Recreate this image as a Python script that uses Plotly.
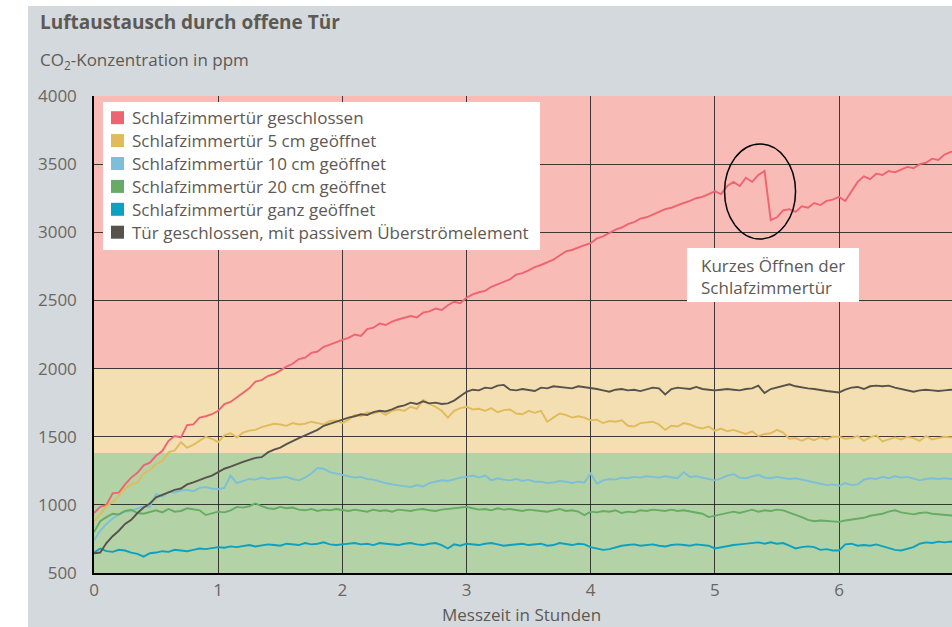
import plotly.graph_objects as go

# ---------------- data ----------------
hours = [round(i * 0.05, 2) for i in range(140)]

names = [
    "Schlafzimmertür geschlossen",
    "Schlafzimmertür 5 cm geöffnet",
    "Schlafzimmertür 10 cm geöffnet",
    "Schlafzimmertür 20 cm geöffnet",
    "Schlafzimmertür ganz geöffnet",
    "Tür geschlossen, mit passivem Überströmelement",
]
colors = ["#ee6470", "#e1bb5b", "#7dbfd8", "#67ab67", "#0ca1c1", "#57524c"]

closed = [
    940, 985, 1000, 1085, 1090, 1150, 1200, 1235, 1290, 1310,
    1360, 1395, 1470, 1505, 1495, 1585, 1590, 1640, 1650, 1665,
    1690, 1740, 1755, 1790, 1820, 1855, 1905, 1915, 1945, 1960,
    1985, 2015, 2035, 2070, 2080, 2115, 2125, 2160, 2175, 2195,
    2210, 2225, 2250, 2240, 2290, 2300, 2330, 2320, 2345, 2360,
    2370, 2385, 2375, 2410, 2420, 2440, 2430, 2465, 2490, 2480,
    2520, 2545, 2560, 2570, 2600, 2620, 2640, 2655, 2690, 2700,
    2720, 2745, 2760, 2780, 2800, 2830, 2860, 2870, 2890, 2905,
    2920, 2955, 2970, 2995, 3020, 3035, 3060, 3075, 3100, 3110,
    3130, 3155, 3170, 3180, 3200, 3215, 3230, 3250, 3260, 3280,
    3300, 3280, 3340, 3370, 3340, 3400, 3370, 3420, 3450, 3090,
    3110, 3160, 3170, 3150, 3190, 3180, 3215, 3200, 3230, 3240,
    3260, 3230, 3300, 3370, 3410, 3390, 3430, 3420, 3450, 3440,
    3460, 3480, 3470, 3500, 3510, 3540, 3530, 3570, 3590, 3600,
]
open5 = [
    880, 930, 990, 1020, 1070, 1120, 1150, 1165, 1230, 1255,
    1300, 1320, 1385, 1400, 1460, 1420, 1440, 1470, 1500, 1485,
    1460, 1510, 1525, 1495, 1530, 1545, 1550, 1570, 1585, 1595,
    1590, 1580, 1600, 1590, 1595, 1610, 1600, 1590, 1615, 1620,
    1600, 1625, 1660, 1650, 1680, 1670, 1685, 1660, 1690, 1700,
    1690, 1720, 1705, 1770, 1740, 1720, 1690, 1640, 1690, 1710,
    1720, 1700, 1705, 1690, 1710, 1680, 1695, 1700, 1670, 1665,
    1690, 1675, 1690, 1610, 1640, 1670, 1660, 1640, 1650, 1640,
    1620, 1625, 1600, 1615, 1610, 1620, 1580, 1575, 1600, 1605,
    1610, 1590, 1550, 1580, 1575, 1600, 1590, 1570, 1560, 1575,
    1545, 1560, 1540, 1550, 1535, 1520, 1540, 1505, 1520, 1525,
    1550, 1530, 1485, 1490, 1470, 1490, 1475, 1495, 1480, 1500,
    1500, 1485, 1490, 1505, 1470, 1495, 1510, 1465, 1480, 1495,
    1480, 1500, 1490, 1470, 1505, 1480, 1490, 1500, 1495, 1500,
]
open10 = [
    740, 810, 860, 900, 930, 950, 955, 975, 990, 985,
    1080, 1060, 1095, 1090, 1105, 1110, 1100, 1125, 1130, 1120,
    1115, 1125, 1215, 1160, 1175, 1190, 1185, 1200, 1190, 1195,
    1200, 1205, 1190, 1180, 1200, 1230, 1270, 1265, 1240, 1230,
    1220, 1215, 1200, 1205, 1190, 1185, 1170, 1160, 1150, 1145,
    1140, 1130, 1145, 1135, 1160, 1170, 1180, 1175, 1190, 1200,
    1205, 1215, 1200, 1215, 1180, 1195, 1185, 1180, 1190, 1175,
    1185, 1170, 1170, 1160, 1165, 1175, 1170, 1160, 1170, 1165,
    1230, 1155, 1180, 1190, 1185, 1200, 1195, 1205, 1200, 1210,
    1205, 1200, 1210, 1205, 1195, 1240, 1205, 1210, 1200, 1195,
    1180, 1195, 1215, 1225, 1200, 1195, 1205, 1220, 1200, 1195,
    1205, 1200, 1190, 1195, 1185, 1180, 1170, 1160, 1145, 1150,
    1140, 1160, 1145, 1150, 1185, 1195, 1190, 1205, 1195, 1210,
    1200, 1205, 1195, 1180, 1190, 1195, 1190, 1195, 1190, 1195,
]
open20 = [
    800, 880, 910, 935, 930, 955, 965, 940, 935, 950,
    960, 945, 970, 950, 955, 975, 965, 960, 925, 935,
    950, 945, 960, 985, 980, 990, 1010, 990, 975, 970,
    985, 975, 980, 965, 960, 970, 955, 965, 960, 970,
    960, 955, 965, 960, 950, 965, 955, 960, 950, 965,
    960, 955, 965, 970, 960, 955, 965, 970, 975, 980,
    985, 975, 965, 970, 960, 975, 965, 970, 960, 955,
    965, 960, 955, 950, 960, 970, 955, 960, 950, 925,
    950, 945, 955, 950, 960, 940, 950, 945, 960, 955,
    965, 960, 955, 965, 955, 960, 950, 945, 935, 910,
    920, 935, 945, 950, 940, 955, 965, 950, 960, 955,
    965, 960, 945, 930, 910, 890, 880, 885, 880, 880,
    875, 885, 890, 900, 905, 920, 925, 935, 950, 960,
    945, 935, 930, 940, 945, 935, 930, 925, 920, 918,
]
open_full = [
    650, 680, 660, 655, 670, 665, 650, 640, 620, 645,
    650, 660, 655, 670, 665, 660, 670, 680, 675, 685,
    690, 685, 695, 690, 700, 705, 695, 700, 710, 705,
    700, 715, 710, 705, 720, 710, 715, 725, 710, 705,
    710, 715, 720, 710, 715, 705, 720, 715, 710, 705,
    715, 720, 710, 705, 715, 720, 705, 680, 710, 700,
    715, 710, 705, 715, 720, 710, 700, 705, 710, 715,
    705, 710, 715, 700, 705, 720, 710, 705, 715, 710,
    690, 680, 670, 675, 690, 700, 705, 710, 700, 705,
    710, 700, 695, 705, 710, 705, 700, 710, 705, 700,
    680, 690, 700, 705, 710, 715, 720, 725, 715, 725,
    715, 720, 700, 680, 690, 695, 690, 670, 675, 665,
    665, 710, 715, 700, 705, 700, 710, 695, 680, 670,
    665, 675, 690, 715, 725, 720, 730, 725, 730, 728,
]
passive = [
    645, 650, 720, 770, 810, 860, 890, 940, 980, 1010,
    1055, 1075, 1095, 1110, 1120, 1150, 1165, 1185, 1200, 1215,
    1240, 1265, 1280, 1300, 1315, 1330, 1345, 1350, 1385, 1405,
    1420, 1445, 1470, 1490, 1510, 1530, 1550, 1580, 1595, 1610,
    1630, 1640, 1650, 1665, 1660, 1680, 1690, 1685, 1700, 1720,
    1730, 1750, 1740, 1760, 1745, 1750, 1740, 1745, 1765, 1800,
    1830, 1845, 1840, 1860, 1855, 1875, 1880, 1845, 1840, 1850,
    1845, 1835, 1860, 1855, 1870, 1865, 1860, 1855, 1870, 1865,
    1860, 1850, 1840, 1830, 1845, 1850, 1840, 1845, 1835, 1850,
    1860, 1855, 1810, 1850, 1860, 1855, 1850, 1865, 1850, 1845,
    1840, 1845, 1850, 1845, 1840, 1850, 1855, 1875, 1820, 1850,
    1860, 1875, 1885, 1870, 1860, 1855, 1850, 1840, 1835, 1830,
    1825, 1845, 1860, 1865, 1850, 1870, 1875, 1870, 1875, 1860,
    1850, 1845, 1830, 1840, 1845, 1840, 1835, 1840, 1845, 1840,
]
series = [closed, open5, open10, open20, open_full, passive]

# comfort zones (ppm)
zone_bounds = [500, 1380, 2000, 4000]
zone_colors = ["#b3d2a6", "#f3dfb1", "#f8bbb5"]

# event annotation
event_label = "Kurzes Öffnen der<br>Schlafzimmertür"
event_x = [5.078, 5.650]
event_y = [2950, 3648]

y_ticks = [500, 1000, 1500, 2000, 2500, 3000, 3500, 4000]
x_ticks = [0, 1, 2, 3, 4, 5, 6, 7]

# ---------------- layout helpers ----------------
W, H = 952, 627
# plot area in window pixels
L, R, T, B = 94, 952, 96, 573
def px_x(p):
    return (p - L) / (R - L)
def px_y(p):
    return (B - p) / (B - T)

FONT = "Open Sans"
TXT = "#5e5953"

fig = go.Figure()
for name, col, vals in zip(names, colors, series):
    fig.add_trace(go.Scatter(x=hours, y=vals, mode="lines", name=name,
                             line=dict(color=col, width=1.9), showlegend=False))

shapes = []
# white outer strips (page background)
shapes.append(dict(type="rect", xref="paper", yref="paper", x0=px_x(0), x1=px_x(28),
                   y0=px_y(700), y1=px_y(0), fillcolor="white", line_width=0, layer="below"))
shapes.append(dict(type="rect", xref="paper", yref="paper", x0=px_x(0), x1=px_x(960),
                   y0=px_y(6), y1=px_y(0), fillcolor="white", line_width=0, layer="below"))
# zones
for i, zc in enumerate(zone_colors):
    shapes.append(dict(type="rect", xref="x", yref="y", x0=0, x1=8,
                       y0=zone_bounds[i], y1=zone_bounds[i + 1],
                       fillcolor=zc, line_width=0, layer="below"))
# event ellipse
shapes.append(dict(type="circle", xref="x", yref="y", x0=event_x[0], x1=event_x[1],
                   y0=event_y[0], y1=event_y[1], line=dict(color="black", width=1.5)))
# event label box
shapes.append(dict(type="rect", xref="x", yref="y", x0=4.776, x1=6.161, y0=2489, y1=2885,
                   fillcolor="white", line_width=0, layer="above"))
# legend box
shapes.append(dict(type="rect", xref="paper", yref="paper", x0=px_x(103), x1=px_x(540),
                   y0=px_y(250), y1=px_y(102), fillcolor="white", line_width=0, layer="above"))

annotations = []
row_y = [117.7, 140.6, 163.5, 186.4, 209.3, 232.2]
for name, col, ry in zip(names, colors, row_y):
    shapes.append(dict(type="rect", xref="paper", yref="paper", x0=px_x(111), x1=px_x(124),
                       y0=px_y(ry + 6.5), y1=px_y(ry - 6.5), fillcolor=col, line_width=0,
                       layer="above"))
    annotations.append(dict(xref="paper", yref="paper", x=px_x(130), y=px_y(ry),
                            xanchor="left", yanchor="middle", text=name, showarrow=False,
                            font=dict(family=FONT, size=17, color=TXT)))

annotations.append(dict(xref="x", yref="y", x=4.87, y=2679, xanchor="left", yanchor="middle",
                        text=event_label, align="left", showarrow=False,
                        font=dict(family=FONT, size=17, color=TXT)))
annotations.append(dict(xref="paper", yref="paper", x=px_x(38), y=px_y(22), xanchor="left",
                        yanchor="middle", text="<b>Luftaustausch durch offene Tür</b>",
                        showarrow=False, font=dict(family=FONT, size=19, color=TXT)))
annotations.append(dict(xref="paper", yref="paper", x=px_x(38), y=px_y(61), xanchor="left",
                        yanchor="middle", text="CO<sub>2</sub>-Konzentration in ppm",
                        showarrow=False, font=dict(family=FONT, size=17, color=TXT)))
annotations.append(dict(xref="paper", yref="paper", x=px_x(521), y=px_y(614), xanchor="center",
                        yanchor="middle", text="Messzeit in Stunden",
                        showarrow=False, font=dict(family=FONT, size=17, color=TXT)))

grid_col = "rgba(30,30,30,0.85)"
fig.update_layout(
    width=W, height=H,
    margin=dict(l=L, r=W - R, t=T, b=H - B, pad=0),
    paper_bgcolor="#d4d9dd",
    plot_bgcolor="#b3d2a6",
    showlegend=False,
    hovermode=False,
    shapes=shapes,
    annotations=annotations,
    xaxis=dict(range=[0, (R - L) / 124.17], tickvals=x_ticks, showgrid=True,
               gridcolor=grid_col, gridwidth=1.3, showline=True, linecolor="black",
               linewidth=1.5, zeroline=False, ticks="", ticklabelstandoff=1,
               tickfont=dict(family=FONT, size=17, color="#6b6661"), automargin=False),
    yaxis=dict(range=[500, 4000], tickvals=y_ticks, showgrid=True,
               gridcolor=grid_col, gridwidth=1.3, showline=True, linecolor="black",
               linewidth=1.5, zeroline=False, ticks="", ticklabelstandoff=12,
               tickfont=dict(family=FONT, size=17, color="#6b6661"), automargin=False),
)

# the page body gets no margin, so the figure fills the window exactly
fig.write_html("out.html", config={"displayModeBar": False},
               post_script="document.body.style.margin='0px';document.body.style.overflow='hidden';")
